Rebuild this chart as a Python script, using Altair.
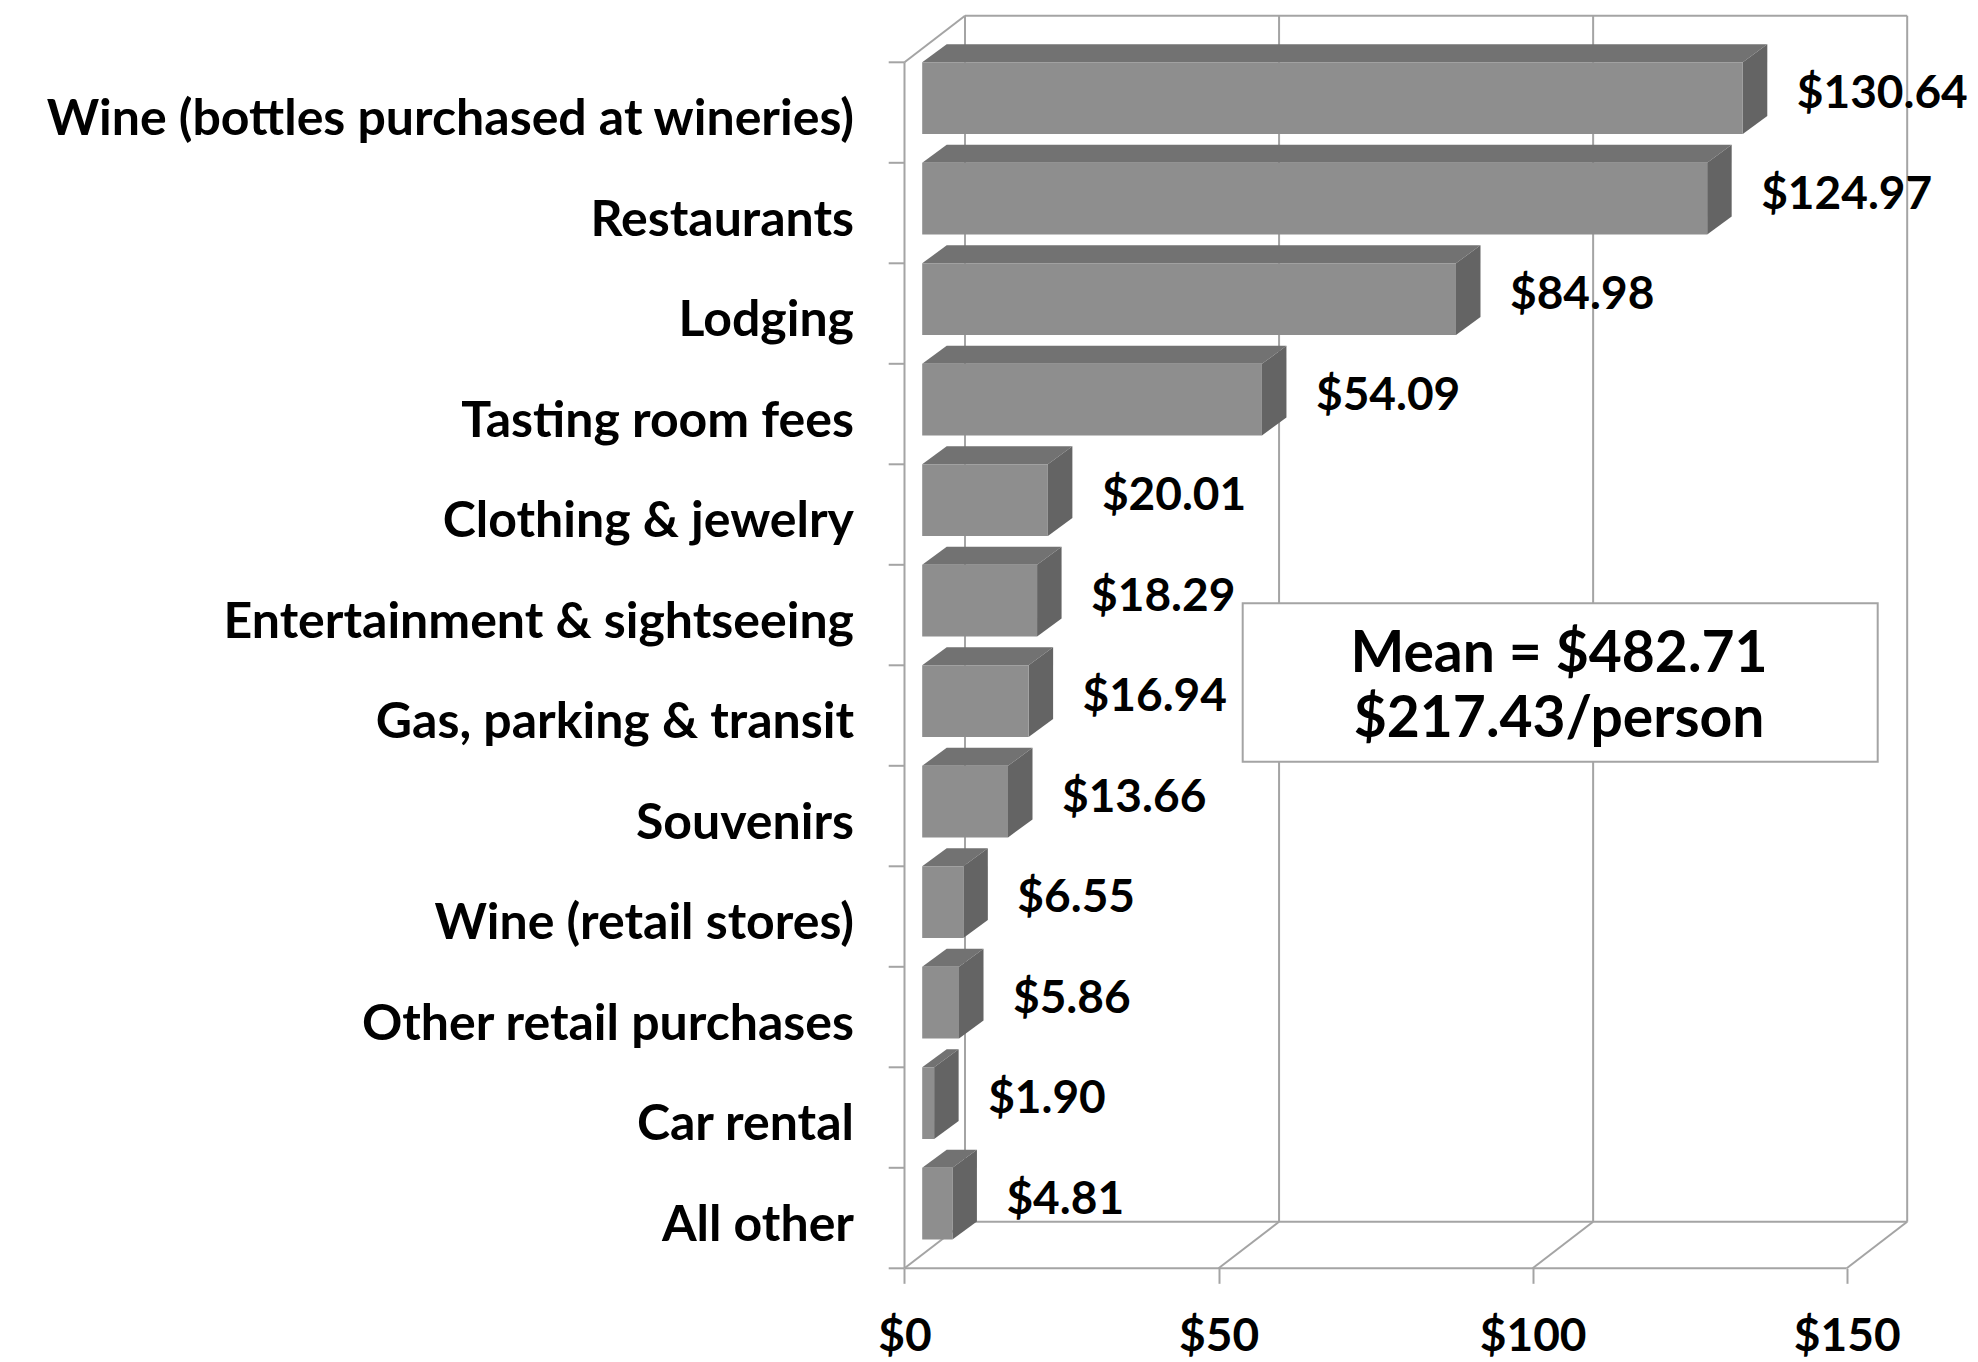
import altair as alt
import pandas as pd

# ---------------- data ----------------
categories = [
    "Wine (bottles purchased at wineries)",
    "Restaurants",
    "Lodging",
    "Tasting room fees",
    "Clothing & jewelry",
    "Entertainment & sightseeing",
    "Gas, parking & transit",
    "Souvenirs",
    "Wine (retail stores)",
    "Other retail purchases",
    "Car rental",
    "All other",
]
values = [130.64, 124.97, 84.98, 54.09, 20.01, 18.29, 16.94, 13.66, 6.55, 5.86, 1.90, 4.81]
x_ticks = [0, 50, 100, 150]
note_lines = ["Mean = $482.71", "$217.43/person"]

# ---------------- layout (pixels) ----------------
W, H = 1962, 1354
PPU = 6.2813          # px per dollar on the front plane
X0_PX = 896.5         # $0 of front plane, from plot left
ROW_PX = 100.5        # height of one category band
Y0_PX = 54.3          # top of first band, from plot top
N = len(categories)

def ux(px):
    return px / PPU

def uy(px):
    return px / ROW_PX

xmin = -X0_PX / PPU
xmax = xmin + W / PPU
ymin = -Y0_PX / ROW_PX
ymax = ymin + H / ROW_PX

BX, BY = ux(60.5), uy(46.5)      # back wall offset
B0 = ux(17.7)                    # bar front face start
BH = uy(71.6)                    # bar front face height
DX, DY = ux(24.5), uy(18.0)      # bar depth
GRID = "#a4a4a4"
FRONT, TOP, SIDE = "#8e8e8e", "#727272", "#646464"
FONT = "Lato"

xs = alt.Scale(domain=[xmin, xmax], nice=False, zero=False)
ys = alt.Scale(domain=[ymin, ymax], nice=False, zero=False, reverse=True)
xaxis = alt.Axis(
    values=x_ticks, format="$.0f", domain=False, grid=False,
    ticks=True, tickSize=15, tickWidth=2, tickColor=GRID,
    labelFont=FONT, labelFontSize=46, labelFontWeight="bold", labelColor="black",
    labelPadding=67, labelBaseline="alphabetic", labelFlush=False,
    offset=-(H - (Y0_PX + N * ROW_PX)), title="",
)

def X(f):
    return alt.X(f"{f}:Q", scale=xs, axis=xaxis)

def Y(f):
    return alt.Y(f"{f}:Q", scale=ys, axis=None, stack=False)

# ---------------- frame lines ----------------
lines = []
for v in x_ticks:
    lines.append(dict(x=v + BX, x2=v + BX, y=-BY, y2=N - BY))      # back grid
    lines.append(dict(x=v, x2=v + BX, y=N, y2=N - BY))             # floor diagonals
lines.append(dict(x=BX, x2=x_ticks[-1] + BX, y=-BY, y2=-BY))       # back top edge
lines.append(dict(x=BX, x2=x_ticks[-1] + BX, y=N - BY, y2=N - BY)) # back floor
lines.append(dict(x=0, x2=x_ticks[-1], y=N, y2=N))                 # front floor
lines.append(dict(x=0, x2=0, y=0, y2=N))                           # front axis
lines.append(dict(x=0, x2=BX, y=0, y2=-BY))                        # top-left diag
for i in range(N + 1):
    lines.append(dict(x=-ux(15.8), x2=0, y=i, y2=i))               # y ticks
lines_df = pd.DataFrame(lines)

frame = alt.Chart(lines_df).mark_rule(color=GRID, strokeWidth=2).encode(
    x=X("x"), x2="x2", y=Y("y"), y2="y2"
)

# ---------------- bars ----------------
bars = pd.DataFrame({
    "cat": categories,
    "val": values,
    "r": list(range(N)),
})
bars["x0"] = B0
bars["x1"] = B0 + bars["val"]
bars["yt"] = bars["r"].astype(float)
bars["yb"] = bars["r"] + BH

top_rows, side_rows = [], []
for _, b in bars.iterrows():
    top_rows.append(dict(r=b.r, y=b.yt, x=b.x0, x2=b.x1))
    top_rows.append(dict(r=b.r, y=b.yt - DY, x=b.x0 + DX, x2=b.x1 + DX))
    side_rows.append(dict(r=b.r, x=b.x1, y=b.yb, y2=b.yt))
    side_rows.append(dict(r=b.r, x=b.x1 + DX, y=b.yb - DY, y2=b.yt - DY))
top_df = pd.DataFrame(top_rows)
side_df = pd.DataFrame(side_rows)

top_face = alt.Chart(top_df).mark_area(orient="horizontal", color=TOP).encode(
    y=Y("y"), x=alt.X("x:Q", scale=xs, axis=xaxis, stack=False), x2="x2", detail="r:N"
)
side_face = alt.Chart(side_df).mark_area(orient="vertical", color=SIDE).encode(
    x=X("x"), y=Y("y"), y2="y2", detail="r:N"
)
front_face = alt.Chart(bars).mark_bar(color=FRONT).encode(
    x=X("x0"), x2="x1", y=Y("yt"), y2="yb"
)

# ---------------- labels ----------------
bars["lab"] = bars["val"].map(lambda v: f"${v:.2f}")
bars["lx"] = bars["x1"] + ux(54)
bars["ly"] = bars["r"] + uy(46)
bars["cx"] = -ux(50.5)
bars["cy"] = bars["r"] + uy(72.7)

value_text = alt.Chart(bars).mark_text(
    align="left", baseline="alphabetic", font=FONT, fontSize=46, fontWeight="bold", color="black"
).encode(x=X("lx"), y=Y("ly"), text="lab:N")

cat_text = alt.Chart(bars).mark_text(
    align="right", baseline="alphabetic", font=FONT, fontSize=50, fontWeight="bold", color="black"
).encode(x=X("cx"), y=Y("cy"), text="cat:N")

# ---------------- note box ----------------
box_df = pd.DataFrame([dict(
    x=ux(1242.7 - 904.5), x2=ux(1877.7 - 904.5),
    y=uy(603.3 - 62.3), y2=uy(761.7 - 62.3),
)])
box = alt.Chart(box_df).mark_rect(fill="white", stroke=GRID, strokeWidth=2).encode(
    x=X("x"), x2="x2", y=Y("y"), y2="y2"
)
note_df = pd.DataFrame({
    "t": note_lines,
    "x": [ux(1559 - 904.5)] * len(note_lines),
    "y": [uy(671.7 - 62.3), uy(736.7 - 62.3)],
})
note = alt.Chart(note_df).mark_text(
    align="center", baseline="alphabetic", font=FONT, fontSize=57, fontWeight="bold", color="black"
).encode(x=X("x"), y=Y("y"), text="t:N")

chart = alt.layer(
    frame, box, top_face, side_face, front_face, value_text, cat_text, note
).properties(
    width=W, height=H, padding=0,
    autosize=alt.AutoSizeParams(type="none"),
).configure_view(strokeWidth=0)

chart.save("out.html", embed_options={"renderer": "svg", "actions": False})
